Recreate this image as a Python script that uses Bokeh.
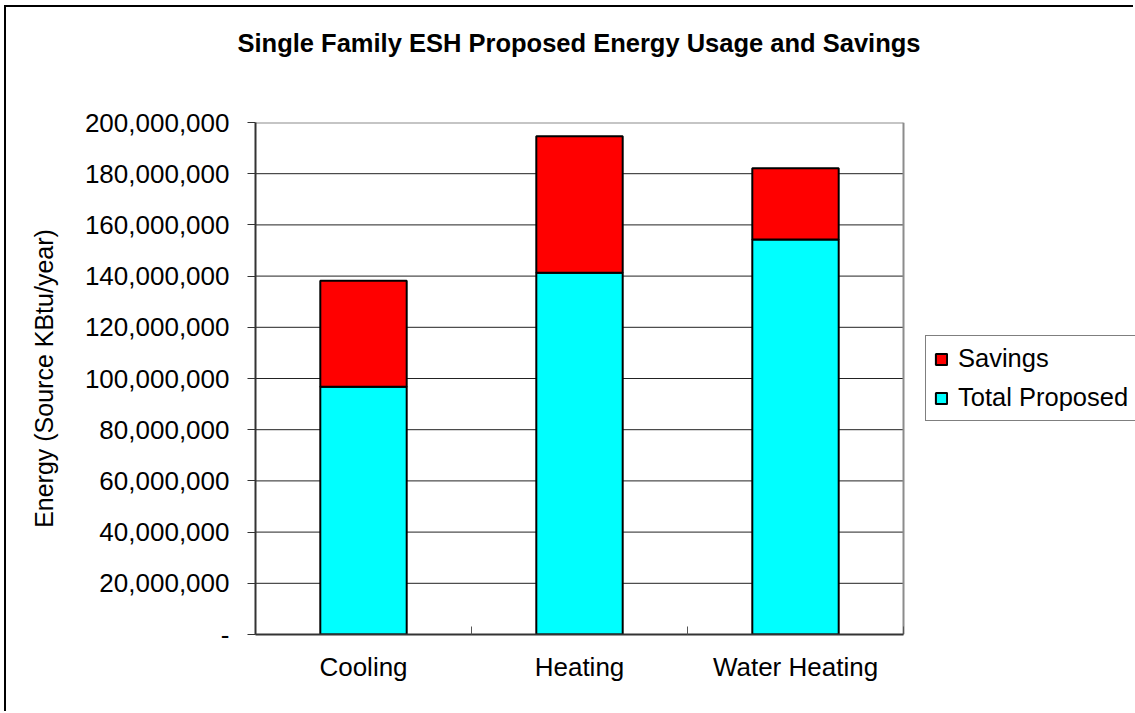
from bokeh.plotting import figure
from bokeh.models import (ColumnDataSource, FixedTicker, NumeralTickFormatter,
                          Legend, LegendItem, Range1d, Title)
from bokeh.embed import file_html
from bokeh.resources import INLINE

# Source energy per end use (KBtu/year)
categories = ["Cooling", "Heating", "Water Heating"]
total_proposed = [96_800_000, 141_300_000, 154_300_000]
savings = [41_400_000, 53_300_000, 27_800_000]
y_ticks = [0, 20_000_000, 40_000_000, 60_000_000, 80_000_000, 100_000_000,
           120_000_000, 140_000_000, 160_000_000, 180_000_000, 200_000_000]

FONT = "Liberation Sans"

n = len(categories)
positions = [i + 0.5 for i in range(n)]
source = ColumnDataSource(dict(x=positions, category=categories,
                               total_proposed=total_proposed, savings=savings))

# The frame runs to the right edge so the legend can sit beside the bars;
# the bar area itself covers x = 0..n (648 px of the 880 px frame).
PLOT_PX, FRAME_PX = 648, 880
p = figure(width=1129, height=706, output_backend="svg", toolbar_location=None,
           x_range=Range1d(0, n * FRAME_PX / PLOT_PX), y_range=Range1d(0, y_ticks[-1]),
           min_border_left=249, min_border_right=0,
           min_border_top=115, min_border_bottom=79,
           background_fill_color="white", border_fill_color="white",
           styles={"border-top": "2px solid black", "border-left": "2px solid black",
                   "margin-left": "4px", "margin-top": "5px"})
p.outline_line_color = None
p.xgrid.grid_line_color = None
p.ygrid.grid_line_color = None

# horizontal gridlines across the bar area
inner = y_ticks[1:-1]
p.segment(x0=[0] * len(inner), x1=[n] * len(inner), y0=inner, y1=inner,
          line_color="#222222", line_width=1)
# plot-area border (top and right)
p.segment(x0=[0, n], x1=[n, n], y0=[y_ticks[-1], 0], y1=[y_ticks[-1], y_ticks[-1]],
          line_color="#8c8c8c", line_width=2)

renderers = p.vbar_stack(["total_proposed", "savings"], x="x", width=0.4,
                         source=source, color=["#00FFFF", "#FF0000"],
                         line_color="black", line_width=2)
r_prop, r_sav = renderers

# chart title (outer slot)
p.title.text = "Single Family ESH Proposed Energy Usage and Savings"
p.title.align = "left"
p.title.offset = -18
p.title.standoff = 0
p.title.text_font = FONT
p.title.text_font_size = "25.5px"
p.title.text_font_style = "bold"
p.title.text_color = "black"

# empty slot keeping space between the title and the frame
p.add_layout(Title(text=" ", text_font_size="1px", standoff=63), "above")

# x axis: labels at category centres, ticks on category boundaries
p.xaxis.bounds = (0, n)
p.xaxis.ticker = FixedTicker(ticks=positions, minor_ticks=list(range(n + 1)))
p.xaxis.major_label_overrides = {pos: cat for pos, cat in zip(positions, categories)}
p.xaxis.major_tick_line_color = None
p.xaxis.minor_tick_line_color = "#555555"
p.xaxis.minor_tick_in = 8
p.xaxis.minor_tick_out = 0
p.xaxis.axis_line_color = "#333333"
p.xaxis.axis_line_width = 2
p.xaxis.major_label_text_font = FONT
p.xaxis.major_label_text_font_size = "26px"
p.xaxis.major_label_text_color = "black"
p.xaxis.major_label_standoff = 11

# y axis
p.yaxis.ticker = FixedTicker(ticks=y_ticks, minor_ticks=[])
p.yaxis.formatter = NumeralTickFormatter(format="0,0")
p.yaxis.major_label_overrides = {0: "-"}
p.yaxis.major_tick_in = 0
p.yaxis.major_tick_out = 8
p.yaxis.major_tick_line_color = "#333333"
p.yaxis.axis_line_color = "#333333"
p.yaxis.axis_line_width = 2
p.yaxis.major_label_text_font = FONT
p.yaxis.major_label_text_font_size = "26px"
p.yaxis.major_label_text_color = "black"
p.yaxis.major_label_standoff = 18
p.yaxis.axis_label = "Energy (Source KBtu/year)"
p.yaxis.axis_label_text_font = FONT
p.yaxis.axis_label_text_font_size = "25px"
p.yaxis.axis_label_text_font_style = "normal"
p.yaxis.axis_label_text_color = "black"
p.yaxis.axis_label_standoff = 24

# legend beside the bar area
legend = Legend(items=[LegendItem(label="Savings", renderers=[r_sav]),
                       LegendItem(label="Total Proposed", renderers=[r_prop])],
                location=(670, 213), orientation="vertical",
                border_line_color="black", border_line_width=1,
                background_fill_alpha=1, label_text_font=FONT,
                label_text_font_size="25.5px", label_text_color="black",
                glyph_width=14, glyph_height=14, label_standoff=10,
                spacing=10, padding=8, margin=0)
p.add_layout(legend)

open("out.html", "w").write(file_html(p, INLINE))
